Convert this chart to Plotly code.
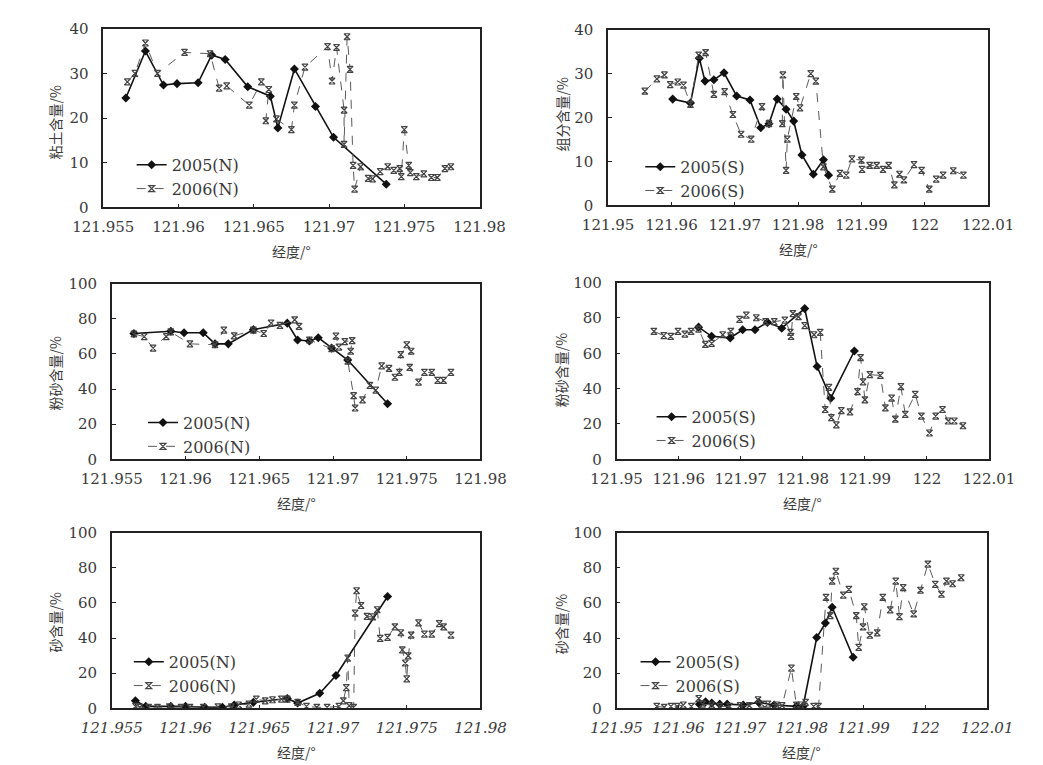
import plotly.graph_objects as go

# ---------------- data ----------------
# Clay, north line
clay_n05_x = [121.9565, 121.9578, 121.9590, 121.9599, 121.9613, 121.9622, 121.9631, 121.9646, 121.9661, 121.9666, 121.9677, 121.9691, 121.9703, 121.9738]
clay_n05_y = [24.5, 35.0, 27.4, 27.7, 27.9, 34.1, 33.1, 27.0, 24.9, 17.8, 31.0, 22.6, 15.7, 5.2]
clay_n06_x = [121.9566, 121.9571, 121.9578, 121.9586, 121.9604, 121.9621, 121.9627, 121.9632, 121.9647, 121.9655, 121.9660, 121.9658, 121.9665,
              121.9675, 121.9677, 121.9684, 121.9699, 121.9702, 121.9705, 121.9710, 121.9710, 121.9712, 121.9714, 121.9716, 121.9717,
              121.9721, 121.9726, 121.9729, 121.9734, 121.9739, 121.9743, 121.9747, 121.9748, 121.9750, 121.9753, 121.9754, 121.9758,
              121.9763, 121.9768, 121.9772, 121.9777, 121.9781]
clay_n06_y = [28.1, 30.0, 36.8, 30.0, 34.7, 34.4, 26.7, 27.2, 22.9, 28.1, 26.4, 19.4, 19.8,
              17.4, 22.9, 31.4, 36.0, 28.3, 35.8, 21.8, 14.1, 38.2, 30.9, 9.4, 4.1,
              9.1, 6.5, 6.4, 8.0, 9.1, 8.3, 8.7, 6.9, 17.4, 9.4, 7.8, 6.9,
              7.5, 6.7, 6.7, 8.7, 9.1]

# Clay, south line
clay_s05_x = [121.9602, 121.9630, 121.9644, 121.9653, 121.9667, 121.9683, 121.9703, 121.9724, 121.9741, 121.9754, 121.9767, 121.9781, 121.9793, 121.9806, 121.9824, 121.9840, 121.9848]
clay_s05_y = [24.2, 23.3, 33.5, 28.3, 28.6, 30.2, 24.9, 24.0, 17.7, 18.6, 24.2, 21.9, 19.2, 11.5, 7.1, 10.4, 6.9]
clay_s06_x = [121.9558, 121.9577, 121.9589, 121.9598, 121.9610, 121.9619, 121.9630, 121.9643, 121.9654, 121.9667, 121.9684, 121.9697, 121.9710,
              121.9726, 121.9743, 121.9754, 121.9775, 121.9776, 121.9781, 121.9783, 121.9797, 121.9803, 121.9820, 121.9828, 121.9840,
              121.9854, 121.9866, 121.9876, 121.9885, 121.9900, 121.9901, 121.9913, 121.9924, 121.9934, 121.9943, 121.9952, 121.9960,
              121.9967, 121.9983, 121.9995, 122.0007, 122.0018, 122.0029, 122.0045, 122.0061]
clay_s06_y = [26.0, 28.8, 29.7, 27.5, 28.1, 27.4, 23.0, 34.2, 34.8, 25.3, 25.9, 20.7, 16.2,
              15.1, 22.5, 18.6, 18.6, 29.7, 8.0, 15.1, 24.8, 22.2, 30.0, 28.3, 8.8,
              3.7, 7.3, 6.9, 10.6, 10.3, 8.2, 9.1, 9.1, 8.2, 9.1, 4.7, 7.1,
              5.8, 9.3, 8.0, 3.7, 6.0, 6.9, 7.9, 6.9]

# Silt, north line
silt_n05_x = [121.9565, 121.9590, 121.9599, 121.9612, 121.9620, 121.9629, 121.9646, 121.9669, 121.9676, 121.9684, 121.9690, 121.9699, 121.9710, 121.9737]
silt_n05_y = [71.6, 72.9, 72.0, 72.0, 65.7, 65.7, 73.8, 77.5, 67.9, 67.3, 69.2, 63.3, 56.5, 31.6]
silt_n06_x = [121.9565, 121.9572, 121.9578, 121.9587, 121.9590, 121.9603, 121.9620, 121.9626, 121.9633, 121.9646, 121.9653, 121.9658, 121.9664,
              121.9674, 121.9677, 121.9684, 121.9699, 121.9702, 121.9704, 121.9708, 121.9713, 121.9712, 121.9710, 121.9714, 121.9715,
              121.9720, 121.9725, 121.9729, 121.9733, 121.9738, 121.9742, 121.9745, 121.9746, 121.9750, 121.9753, 121.9752, 121.9758,
              121.9762, 121.9767, 121.9771, 121.9775, 121.9780]
silt_n06_y = [71.3, 69.8, 63.3, 69.8, 72.5, 65.7, 65.2, 73.5, 70.3, 73.5, 71.6, 77.5, 76.2,
              79.4, 75.7, 67.9, 63.0, 70.1, 63.9, 67.0, 67.6, 61.5, 55.9, 36.2, 29.2,
              33.8, 42.1, 39.4, 53.2, 51.7, 46.7, 49.5, 59.6, 65.2, 61.5, 52.3, 43.9,
              49.5, 49.5, 44.9, 44.9, 49.5]

# Silt, south line
silt_s05_x = [121.9632, 121.9653, 121.9683, 121.9703, 121.9723, 121.9743, 121.9766, 121.9803, 121.9823, 121.9845, 121.9883]
silt_s05_y = [74.8, 69.6, 68.7, 73.3, 73.3, 77.5, 74.2, 85.3, 52.5, 34.6, 61.3]
silt_s06_x = [121.9560, 121.9576, 121.9587, 121.9599, 121.9610, 121.9620, 121.9632, 121.9643, 121.9653, 121.9671, 121.9684, 121.9698, 121.9709,
              121.9725, 121.9740, 121.9754, 121.9771, 121.9780, 121.9781, 121.9784, 121.9793, 121.9803, 121.9818, 121.9828, 121.9836,
              121.9842, 121.9846, 121.9854, 121.9862, 121.9876, 121.9888, 121.9893, 121.9897, 121.9900, 121.9908, 121.9925, 121.9933,
              121.9943, 121.9949, 121.9958, 121.9965, 121.9981, 121.9991, 122.0004, 122.0014, 122.0025, 122.0034, 122.0044, 122.0058]
silt_s06_y = [72.4, 70.0, 69.6, 72.4, 70.9, 72.4, 73.7, 65.0, 65.6, 70.5, 72.4, 79.2, 81.6,
              80.1, 77.9, 77.9, 78.8, 71.8, 69.6, 82.5, 80.7, 75.7, 70.5, 71.8, 28.2,
              40.7, 23.6, 19.5, 27.6, 26.9, 38.3, 57.6, 43.8, 33.7, 47.9, 47.5, 29.1,
              34.6, 22.7, 41.1, 25.4, 36.8, 24.5, 14.9, 24.5, 28.2, 21.7, 21.7, 19.0]

# Sand, north line
sand_n05_x = [121.9566, 121.9573, 121.9590, 121.9600, 121.9613, 121.9625, 121.9633, 121.9646, 121.9669, 121.9676, 121.9691, 121.9702, 121.9737]
sand_n05_y = [4.3, 1.1, 1.1, 1.1, 0.6, 0.6, 1.9, 3.4, 5.6, 3.0, 8.6, 18.7, 63.6]
sand_n06_x = [121.9566, 121.9569, 121.9575, 121.9581, 121.9589, 121.9597, 121.9603, 121.9612, 121.9622, 121.9631, 121.9636, 121.9643, 121.9648,
              121.9654, 121.9659, 121.9665, 121.9669, 121.9676, 121.9682, 121.9689, 121.9696, 121.9704, 121.9707, 121.9709, 121.9710,
              121.9711, 121.9714, 121.9715, 121.9716, 121.9719, 121.9723, 121.9727, 121.9730, 121.9732, 121.9737, 121.9742, 121.9746,
              121.9747, 121.9749, 121.9750, 121.9751, 121.9753, 121.9758, 121.9762, 121.9767, 121.9772, 121.9775, 121.9780]
sand_n06_y = [1.1, 0.6, 0.6, 0.6, 0.8, 0.6, 0.6, 0.6, 0.8, 0.9, 1.9, 2.4, 5.2,
              4.3, 4.9, 5.2, 5.2, 3.4, 1.1, 0.6, 0.6, 1.1, 4.3, 11.8, 28.6,
              1.5, 0.6, 54.2, 66.9, 58.5, 52.3, 52.0, 56.1, 39.8, 40.4, 46.4, 43.0,
              33.3, 25.8, 16.8, 29.9, 41.7, 48.6, 42.2, 42.2, 48.2, 46.4, 41.7]

# Sand, south line
sand_s05_x = [121.9634, 121.9644, 121.9654, 121.9667, 121.9679, 121.9705, 121.9730, 121.9755, 121.9791, 121.9802, 121.9824, 121.9838, 121.9849, 121.9883]
sand_s05_y = [2.4, 3.7, 3.0, 2.4, 2.4, 1.9, 3.4, 1.9, 1.1, 1.1, 40.3, 48.5, 57.5, 29.1]
sand_s06_x = [121.9565, 121.9577, 121.9588, 121.9598, 121.9608, 121.9621, 121.9633, 121.9639, 121.9654, 121.9667, 121.9683, 121.9700, 121.9715,
              121.9729, 121.9735, 121.9745, 121.9759, 121.9768, 121.9783, 121.9791, 121.9798, 121.9806, 121.9819, 121.9827, 121.9839,
              121.9846, 121.9849, 121.9855, 121.9867, 121.9876, 121.9888, 121.9892, 121.9899, 121.9901, 121.9910, 121.9922, 121.9931,
              121.9943, 121.9952, 121.9958, 121.9964, 121.9981, 121.9992, 122.0004, 122.0016, 122.0026, 122.0034, 122.0044, 122.0058]
sand_s06_y = [1.1, 0.6, 1.1, 1.1, 1.9, 1.1, 5.6, 2.4, 1.9, 1.1, 1.1, 1.5, 1.5,
              4.9, 2.4, 2.4, 1.9, 1.5, 22.9, 1.9, 1.9, 3.4, 1.1, 1.1, 63.1,
              52.8, 72.4, 78.0, 64.4, 67.7, 52.8, 34.7, 46.3, 57.8, 41.6, 42.9, 63.1,
              56.0, 72.4, 52.2, 68.7, 53.7, 67.2, 82.1, 70.5, 64.9, 72.4, 70.9, 74.3]

# ticks / labels
n_xticks = [121.955, 121.96, 121.965, 121.97, 121.975, 121.98]
n_xlabels = ["121.955", "121.96", "121.965", "121.97", "121.975", "121.98"]
s_xticks = [121.95, 121.96, 121.97, 121.98, 121.99, 122.0, 122.01]
s_xlabels = ["121.95", "121.96", "121.97", "121.98", "121.99", "122", "122.01"]
clay_yticks = [0, 10, 20, 30, 40]
pct_yticks = [0, 20, 40, 60, 80, 100]

y_titles = ["粘土含量/%", "组分含量/%", "粉砂含量/%", "粉砂含量/%", "砂含量/%", "砂含量/%"]
x_title = "经度/°"
names_n = ["2005(N)", "2006(N)"]
names_s = ["2005(S)", "2006(S)"]

# ---------------- layout geometry (pixels) ----------------
W, H = 1043, 765
boxes = [
    (68, 466, 12, 195),
    (602, 1004, 13, 193),
    (77, 467, 273, 453),
    (611, 1005, 272, 453),
    (77, 467, 528, 708),
    (611, 1003, 528, 708),
]
legend_pos = [(98, 134), (636, 136), (110, 398), (648, 392), (95, 643), (631, 643)]
ytitle_pos = [(17, 108), (553, 100), (17, 365), (553, 362), (17, 620), (553, 622)]

panels = [
    (clay_n05_x, clay_n05_y, clay_n06_x, clay_n06_y, names_n, n_xticks, n_xlabels, [121.955, 121.98], clay_yticks, [0, 40]),
    (clay_s05_x, clay_s05_y, clay_s06_x, clay_s06_y, names_s, s_xticks, s_xlabels, [121.95, 122.01], clay_yticks, [0, 40]),
    (silt_n05_x, silt_n05_y, silt_n06_x, silt_n06_y, names_n, n_xticks, n_xlabels, [121.955, 121.98], pct_yticks, [0, 100]),
    (silt_s05_x, silt_s05_y, silt_s06_x, silt_s06_y, names_s, s_xticks, s_xlabels, [121.95, 122.01], pct_yticks, [0, 100]),
    (sand_n05_x, sand_n05_y, sand_n06_x, sand_n06_y, names_n, n_xticks, n_xlabels, [121.955, 121.98], pct_yticks, [0, 100]),
    (sand_s05_x, sand_s05_y, sand_s06_x, sand_s06_y, names_s, s_xticks, s_xlabels, [121.95, 122.01], pct_yticks, [0, 100]),
]

SERIF = "DejaVu Serif"
CJK = "Noto Sans CJK SC"
TXT = "#3a3a3a"

fig = go.Figure()
layout = dict(
    width=W, height=H,
    margin=dict(l=0, r=0, t=0, b=0),
    paper_bgcolor="white", plot_bgcolor="white",
    showlegend=True,
)
annotations = []

for i, (x5, y5, x6, y6, names, xt, xl, xr, yt, yr) in enumerate(panels):
    k = i + 1
    sx = "" if k == 1 else str(k)
    leg = "legend" if k == 1 else f"legend{k}"
    l, r, t, b = boxes[i]
    fig.add_trace(go.Scatter(
        x=x5, y=y5, name=names[0], mode="lines+markers",
        xaxis=f"x{sx}", yaxis=f"y{sx}", legend=leg,
        line=dict(color="#111111", width=1.6),
        marker=dict(symbol="diamond", size=7, color="#111111"),
    ))
    fig.add_trace(go.Scatter(
        x=x6, y=y6, name=names[1], mode="lines+markers",
        xaxis=f"x{sx}", yaxis=f"y{sx}", legend=leg,
        line=dict(color="#5a5a5a", width=1, dash="dash"),
        marker=dict(symbol="hourglass-open", size=6, color="#444444", line=dict(width=1.2)),
    ))
    italic = i >= 4
    layout[f"xaxis{sx}"] = dict(
        domain=[l / W, r / W], anchor=f"y{sx}", range=xr,
        tickvals=xt, ticktext=xl, ticks="inside", ticklen=4, tickcolor="#222",
        showline=True, mirror=True, linecolor="#222", linewidth=1.5,
        showgrid=False, zeroline=False, ticklabelstandoff=5,
        tickfont=dict(family=SERIF, size=15, color=TXT,
                      style="italic" if italic else "normal"),
    )
    layout[f"yaxis{sx}"] = dict(
        domain=[1 - b / H, 1 - t / H], anchor=f"x{sx}", range=yr,
        tickvals=yt, ticks="inside", ticklen=4, tickcolor="#222",
        showline=True, mirror=True, linecolor="#222", linewidth=1.5,
        showgrid=False, zeroline=False, ticklabelstandoff=10,
        tickfont=dict(family=SERIF, size=15, color=TXT),
    )
    lx, ly = legend_pos[i]
    layout[leg] = dict(
        x=lx / W, y=1 - ly / H, xanchor="left", yanchor="top",
        bgcolor="rgba(0,0,0,0)", borderwidth=0, tracegroupgap=0,
        font=dict(family=SERIF, size=16, color=TXT),
        itemwidth=30,
    )
    tx, ty = ytitle_pos[i]
    annotations.append(dict(
        text=y_titles[i], x=tx / W, y=1 - ty / H, xref="paper", yref="paper",
        showarrow=False, textangle=-90, xanchor="center", yanchor="middle",
        font=dict(family=CJK, size=14, color=TXT),
    ))
    annotations.append(dict(
        text=x_title, x=((l + r) / 2) / W, y=1 - (b + 45) / H, xref="paper", yref="paper",
        showarrow=False, xanchor="center", yanchor="middle",
        font=dict(family=CJK, size=14, color=TXT),
    ))

layout["annotations"] = annotations
fig.update_layout(**layout)
fig.write_html("out.html")
